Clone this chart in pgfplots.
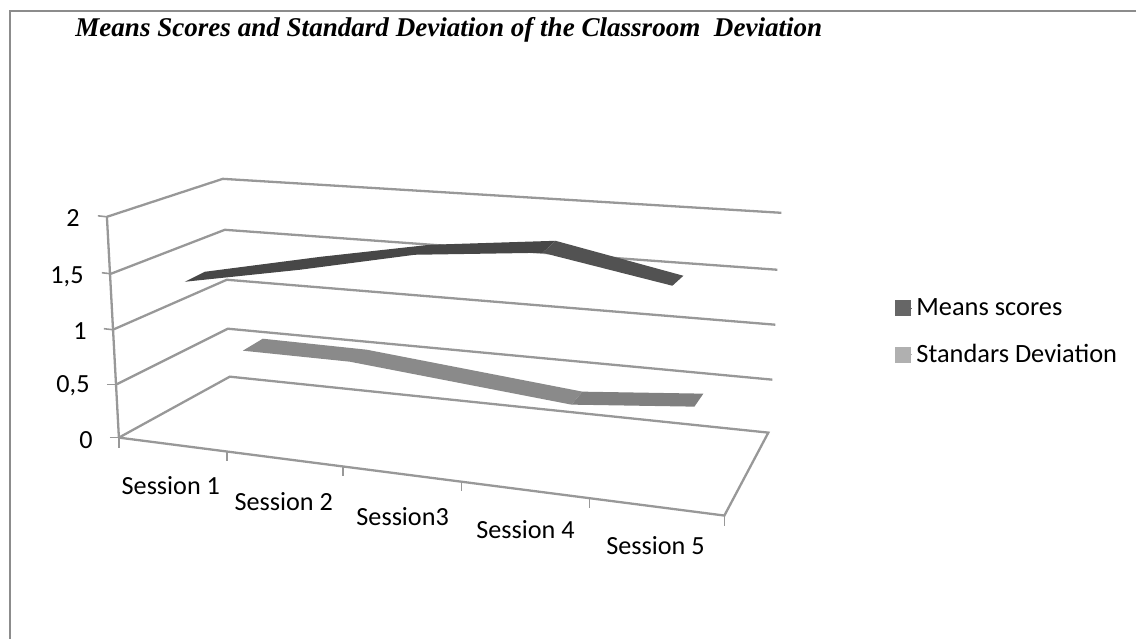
\documentclass[border=0pt]{standalone}
\usepackage{pgfplots}
\pgfplotsset{compat=1.18}
\usepackage{fontspec}
\setmainfont{Carlito}
\newfontfamily\titlefont{Liberation Serif}
\definecolor{gridc}{HTML}{989898}
\definecolor{framec}{HTML}{8C8C8C}
\definecolor{meanA}{HTML}{474747}
\definecolor{meanB}{HTML}{525252}
\definecolor{sdA}{HTML}{8A8A8A}
\definecolor{sdB}{HTML}{808080}
\definecolor{keyA}{HTML}{666666}
\definecolor{keyB}{HTML}{B0B0B0}
\tikzset{lab/.style={font=\fontsize{13.1}{14}\selectfont, anchor=center, inner sep=0pt}}
\begin{document}
\begin{tikzpicture}
\begin{axis}[
  width=568.5pt, height=320pt, scale only axis,
  xmin=0, xmax=1137, ymin=0, ymax=640, y dir=reverse,
  hide axis, clip=false,
  legend style={at={(axis cs:895,294)}, anchor=north west, draw=none, fill=none,
    font=\fontsize{13.2}{14}\selectfont, row sep=9pt, inner sep=0pt},
  legend cell align=left,
  legend image code/.code={\fill[#1] (0pt,-3.7pt) rectangle (7.5pt,3.7pt); \path (0pt,0pt) -- (8.5pt,0pt);},
  grid line/.style={draw=gridc, line width=1.15pt, forget plot},
  tick mark/.style={draw=gridc, line width=0.8pt, forget plot},
  band/.style={fill=#1, draw=none, forget plot},
]
% keeps the page at the full size of the reference
\path (axis cs:0,0) rectangle (axis cs:1137,640);

% frame
\addplot[draw=framec, line width=1pt, forget plot] coordinates {(1137,11) (10,11) (10,640)};

% back and side walls, one line for each value 2, 1.5, 1, 0.5, 0
\addplot[grid line] coordinates {(107,217) (223,179) (782,213)};
\addplot[grid line] coordinates {(111,274) (225,230) (778,270)};
\addplot[grid line] coordinates {(113,330) (227,280) (776,325)};
\addplot[grid line] coordinates {(116,385) (228,329) (773,380)};
\addplot[grid line] coordinates {(119,438) (230,377) (769,433) (725,516) (119,438)};
% value axis
\addplot[grid line] coordinates {(107,217) (119,438)};
\addplot[tick mark] coordinates {(98,216) (107,217)};
\addplot[tick mark] coordinates {(102,273) (111,274)};
\addplot[tick mark] coordinates {(104,329) (113,330)};
\addplot[tick mark] coordinates {(107,385) (116,385)};
\addplot[tick mark] coordinates {(110,438) (119,438)};
% category ticks
\addplot[tick mark] coordinates {(119,438) (119,448)};
\addplot[tick mark] coordinates {(227,452) (227,461)};
\addplot[tick mark] coordinates {(343,467) (343,476)};
\addplot[tick mark] coordinates {(462,482) (462,491)};
\addplot[tick mark] coordinates {(590,499) (590,508)};
\addplot[tick mark] coordinates {(725,516) (725,526)};

% Standars Deviation ribbon
\addplot[band=sdA] coordinates {(243,351) (263,339) (367,350) (583,392) (572,405) (350,362)} --cycle;
\addplot[band=sdB] coordinates {(572,405) (583,392) (704,394) (695,407)} --cycle;
% Means scores ribbon
\addplot[band=meanA] coordinates {(185,282) (205,272) (321,257) (430,245) (556,241) (543,253) (415,255) (300,270)} --cycle;
\addplot[band=meanB] coordinates {(543,253) (556,241) (684,276) (673,286)} --cycle;

\addlegendimage{keyA}
\addlegendentry{Means scores}
\addlegendimage{keyB}
\addlegendentry{Standars Deviation}

\node[anchor=west, inner sep=0pt, font=\titlefont\bfseries\itshape\fontsize{13.55}{15}\selectfont] at (axis cs:75,30)
  {Means Scores and Standard Deviation of the Classroom\ \ Deviation};

\node[lab, anchor=east] at (axis cs:80,218) {2};
\node[lab, anchor=east] at (axis cs:84,277) {1,5};
\node[lab, anchor=east] at (axis cs:87,331) {1};
\node[lab, anchor=east] at (axis cs:90,386) {0,5};
\node[lab, anchor=east] at (axis cs:93,440) {0};

\node[lab] at (axis cs:171,486) {Session 1};
\node[lab] at (axis cs:284,502) {Session 2};
\node[lab] at (axis cs:403,517) {Session3};
\node[lab] at (axis cs:526,530) {Session 4};
\node[lab] at (axis cs:656,546) {Session 5};
\end{axis}
\end{tikzpicture}
\end{document}
